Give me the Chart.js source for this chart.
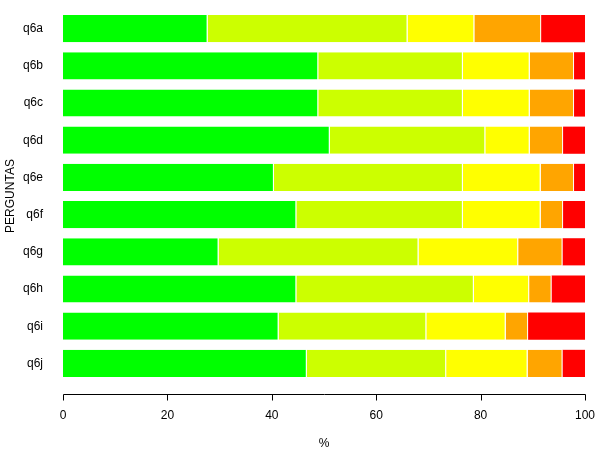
<!DOCTYPE html>
<html lang="en">
<head>
    <meta charset="UTF-8">
    <title>PERGUNTAS q6</title>
    <script src="https://cdn.jsdelivr.net/npm/chart.js"></script>
    <style>
        html, body { margin: 0; padding: 0; background: #fff; }
        .chart-container { width: 600px; height: 450px; }
    </style>
</head>
<body>
    <div class="chart-container">
        <canvas id="perguntasChart" width="600" height="450"></canvas>
    </div>

    <script>
        const questions = ['q6a', 'q6b', 'q6c', 'q6d', 'q6e', 'q6f', 'q6g', 'q6h', 'q6i', 'q6j'];
        const xTicks = [0, 20, 40, 60, 80, 100];

        // % per answer level
        const level1 = [27.7, 48.9, 48.9, 51.1, 40.4, 44.7, 29.8, 44.7, 41.3, 46.7];
        const level2 = [38.3, 27.7, 27.7, 29.8, 36.2, 31.9, 38.3, 34.0, 28.3, 26.7];
        const level3 = [12.8, 12.8, 12.8, 8.5, 14.9, 14.9, 19.1, 10.6, 15.2, 15.6];
        const level4 = [12.8, 8.5, 8.5, 6.4, 6.4, 4.3, 8.5, 4.3, 4.3, 6.7];
        const level5 = [8.5, 2.1, 2.1, 4.3, 2.1, 4.3, 4.3, 6.4, 10.9, 4.4];

        const levelColors = ['#00FF00', '#CCFF00', '#FFFF00', '#FFA500', '#FF0000'];

        const font = { family: "'Liberation Sans', Arial, sans-serif", size: 12 };
        const titleFont = { family: "'Liberation Sans', Arial, sans-serif", size: 12, lineHeight: 1 };

        // R style x axis: line detached from the bars, ticks pointing down
        const detachedAxis = {
            id: 'detachedAxis',
            afterDraw(chart) {
                const xs = chart.scales.x;
                const ctx = chart.ctx;
                const y = Math.round(chart.chartArea.bottom + 11.5) + 0.5;
                ctx.save();
                ctx.strokeStyle = '#000';
                ctx.lineWidth = 1;
                ctx.beginPath();
                ctx.moveTo(Math.round(xs.getPixelForValue(xTicks[0])) + 0.5, y);
                ctx.lineTo(Math.round(xs.getPixelForValue(xTicks[xTicks.length - 1])) + 0.5, y);
                xTicks.forEach(v => {
                    const x = Math.round(xs.getPixelForValue(v)) + 0.5;
                    ctx.moveTo(x, y);
                    ctx.lineTo(x, y + 6);
                });
                ctx.stroke();
                ctx.restore();
            }
        };

        function makeDataset(label, data, i, last) {
            return {
                label: label,
                data: data,
                backgroundColor: levelColors[i],
                borderColor: '#FFFFFF',
                borderWidth: last ? 0 : { left: 0, right: 1, top: 0, bottom: 0 },
                borderSkipped: false,
                categoryPercentage: 1,
                barPercentage: 0.73
            };
        }

        const ctx = document.getElementById('perguntasChart').getContext('2d');
        new Chart(ctx, {
            type: 'bar',
            data: {
                labels: questions,
                datasets: [
                    makeDataset('1', level1, 0, false),
                    makeDataset('2', level2, 1, false),
                    makeDataset('3', level3, 2, false),
                    makeDataset('4', level4, 3, false),
                    makeDataset('5', level5, 4, true)
                ]
            },
            options: {
                indexAxis: 'y',
                responsive: false,
                animation: false,
                layout: { padding: { top: 10, right: 15, left: 0, bottom: 0 } },
                plugins: {
                    legend: { display: false },
                    tooltip: { enabled: false }
                },
                scales: {
                    x: {
                        stacked: true,
                        min: 0,
                        max: 100,
                        grid: { display: false, drawTicks: false },
                        border: { display: false },
                        ticks: {
                            stepSize: 20,
                            color: '#000',
                            font: font,
                            padding: 26,
                            maxRotation: 0
                        },
                        title: { display: true, text: '%', color: '#000', font: titleFont, padding: 0 },
                        afterFit(scale) {
                            scale.height = 68;
                            scale.paddingLeft = 0;
                            scale.paddingRight = 0;
                        }
                    },
                    y: {
                        stacked: true,
                        grid: { display: false, drawTicks: false },
                        border: { display: false },
                        ticks: { color: '#000', font: font, padding: 20 },
                        title: { display: true, text: 'PERGUNTAS', color: '#000', font: font, padding: { top: 3, bottom: 0 } },
                        afterFit(scale) {
                            scale.width = 63;
                            scale.paddingTop = 0;
                            scale.paddingBottom = 0;
                        }
                    }
                }
            },
            plugins: [detachedAxis]
        });
    </script>
</body>
</html>
